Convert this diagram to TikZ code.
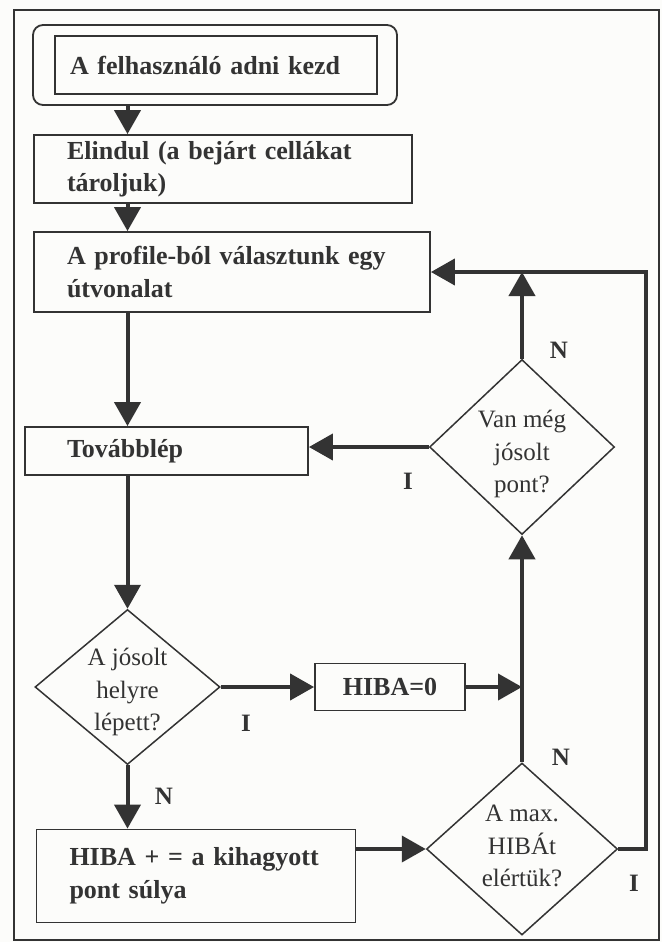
\documentclass[tikz,border=0pt]{standalone}
\usepackage{fontspec}
\setmainfont{Liberation Serif}
\usetikzlibrary{arrows.meta,shapes.geometric}
\definecolor{ink}{HTML}{333333}
\definecolor{paper}{HTML}{FCFCFA}
\begin{document}
\begin{tikzpicture}[x=1pt,y=-1pt,
  every node/.style={text=ink},
  box/.style={draw=ink,line width=1.8pt,rectangle,inner ysep=0pt,align=left,
    font={\fontsize{26}{32.5}\selectfont\bfseries}},
  decision/.style={draw=ink,line width=1.5pt,diamond,inner sep=0pt},
  question/.style={inner sep=0pt,align=center,font={\fontsize{25}{32.5}\selectfont}},
  flow/.style={draw=ink,line width=4pt,-{Triangle[length=24pt,width=26pt]}},
  tag/.style={font={\fontsize{25}{30}\selectfont\bfseries}}
]
\useasboundingbox (0,0) rectangle (662,942);
\fill[paper] (0,0) rectangle (662,942);
\draw[ink,line width=1.5pt] (14,10) rectangle (659,940);

% guide columns for the vertical runs
\coordinate (col) at (127.5,0);
\coordinate (rail) at (646,0);

% process boxes
\node[draw=ink,line width=1.8pt,rounded corners=10pt,minimum width=364pt,minimum height=80pt] (startframe) at (215,65) {};
\node[box,text width=292pt,inner xsep=15pt,minimum height=58pt] (start) at (216,65) {A felhasználó adni kezd};
\node[box,text width=312pt,inner xsep=33pt,minimum height=68pt] (eli) at (223,169) {Elindul (a bejárt cellákat\\tároljuk)};
\node[box,text width=330pt,inner xsep=33pt,minimum height=80pt] (prof) at (232,272) {A profile-ból választunk egy\\útvonalat};
\node[box,text width=199pt,inner xsep=42pt,minimum height=48pt] (tov) at (166.5,451) {Továbblép};
\node[box,align=center,minimum width=150pt,minimum height=47pt,inner xsep=0pt] (h0) at (390,687) {HIBA=0};
\node[box,text width=253pt,inner xsep=33pt,minimum height=93pt] (hp) at (196,876) {HIBA + = a kihagyott\\pont súlya};

% decisions and their questions
\node[decision,minimum width=185pt,minimum height=175pt] (van) at (522,447) {};
\node[question] (vanq) at (522,454) {Van még\\jósolt\\pont?};
\node[decision,minimum width=185pt,minimum height=155pt] (jos) at (127.5,687) {};
\node[question] (josq) at (127.5,692) {A jósolt\\helyre\\lépett?};
\node[decision,minimum width=191pt,minimum height=172pt] (amax) at (522,849) {};
\node[question] (amaxq) at (522,846) {A max.\\HIBÁt\\elértük?};

% connectors
\draw[flow] (startframe.south -| col) -- (eli.north -| col);
\draw[flow] (eli.south -| col) -- (prof.north -| col);
\draw[flow] (prof.south -| col) -- (tov.north -| col);
\draw[flow] (tov.south -| col) -- (jos.north);
\draw[flow] (jos.east) -- (h0.west);
\draw[flow] (h0.east) -- (h0.east -| van.south);
\draw[flow] (amax.north) -- (van.south);
\draw[flow] (van.north) -- (van.north |- prof.east);
\draw[flow] (van.west) -- (van.west -| tov.east);
\draw[flow] (jos.south) -- (jos.south |- hp.north);
\draw[flow] (amax.west -| hp.east) -- (amax.west);
\draw[flow] (amax.east) -- (amax.east -| rail) -- (rail |- prof.east) -- (prof.east);

% branch labels
\node[tag] (nvan) at (559,350) {N};
\node[tag] (ivan) at (408,481) {I};
\node[tag] (ijos) at (246,723) {I};
\node[tag] (njos) at (164,796) {N};
\node[tag] (namax) at (561,757) {N};
\node[tag] (iamax) at (634,883) {I};
\end{tikzpicture}
\end{document}
